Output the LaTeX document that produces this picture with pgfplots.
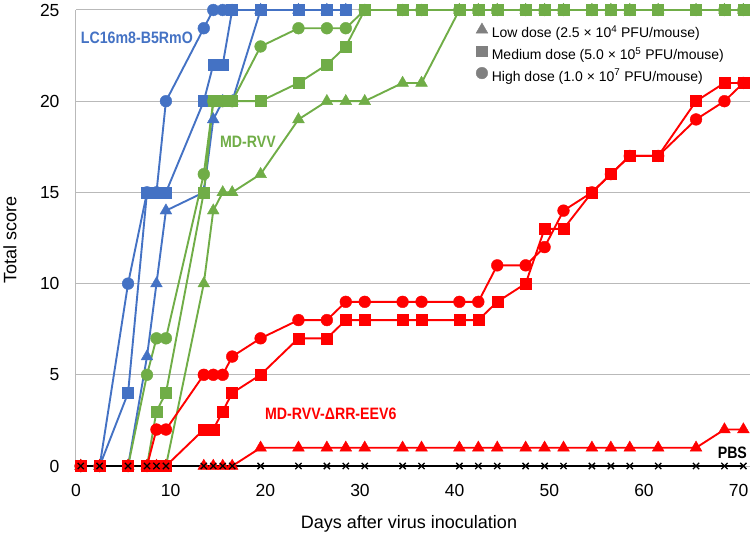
\documentclass[border=0pt]{standalone}
\usepackage{fontspec}
\setmainfont{Liberation Sans}
\newfontfamily\narrowfont[FakeStretch=0.86]{Liberation Sans}
\usepackage{pgfplots}
\usepackage{pgfplotstable}
\pgfplotsset{compat=1.18}

\definecolor{cblue}{HTML}{4472C4}
\definecolor{cgreen}{HTML}{70AD47}
\definecolor{cred}{HTML}{FF0000}
\definecolor{gridgray}{HTML}{B9B9B9}
\definecolor{leggray}{HTML}{808080}

% LC16m8-B5RmO
\pgfplotstableread{
day score
0.5 0
2.5 0
5.5 0
7.5 6
8.5 10
9.5 14
13.5 15
14.5 19
15.5 20
16.5 20
19.5 25
23.5 25
26.5 25
28.5 25
}\bluelow
\pgfplotstableread{
day score
0.5 0
2.5 0
5.5 4
7.5 15
8.5 15
9.5 15
13.5 20
14.5 22
15.5 22
16.5 25
19.5 25
23.5 25
26.5 25
28.5 25
}\bluemed
\pgfplotstableread{
day score
0.5 0
2.5 0
5.5 10
7.5 15
8.5 15
9.5 20
13.5 24
14.5 25
15.5 25
16.5 25
}\bluehigh

% MD-RVV
\pgfplotstableread{
day score
0.5 0
2.5 0
5.5 0
7.5 0
8.5 0
9.5 0
13.5 10
14.5 14
15.5 15
16.5 15
19.5 16
23.5 19
26.5 20
28.5 20
30.5 20
34.5 21
36.5 21
40.5 25
42.5 25
44.5 25
47.5 25
49.5 25
51.5 25
54.5 25
56.5 25
58.5 25
61.5 25
65.5 25
68.5 25
70.5 25
}\greenlow
\pgfplotstableread{
day score
0.5 0
2.5 0
5.5 0
7.5 0
8.5 3
9.5 4
13.5 15
14.5 20
15.5 20
16.5 20
19.5 20
23.5 21
26.5 22
28.5 23
30.5 25
34.5 25
36.5 25
40.5 25
42.5 25
44.5 25
47.5 25
49.5 25
51.5 25
54.5 25
56.5 25
58.5 25
61.5 25
65.5 25
68.5 25
70.5 25
}\greenmed
\pgfplotstableread{
day score
0.5 0
2.5 0
5.5 0
7.5 5
8.5 7
9.5 7
13.5 16
14.5 20
15.5 20
16.5 20
19.5 23
23.5 24
26.5 24
28.5 24
30.5 25
34.5 25
36.5 25
40.5 25
42.5 25
44.5 25
47.5 25
49.5 25
51.5 25
54.5 25
56.5 25
58.5 25
61.5 25
65.5 25
68.5 25
70.5 25
}\greenhigh

% MD-RVV-dRR-EEV6
\pgfplotstableread{
day score
0.5 0
2.5 0
5.5 0
7.5 0
8.5 0
9.5 0
13.5 0
14.5 0
15.5 0
16.5 0
19.5 1
23.5 1
26.5 1
28.5 1
30.5 1
34.5 1
36.5 1
40.5 1
42.5 1
44.5 1
47.5 1
49.5 1
51.5 1
54.5 1
56.5 1
58.5 1
61.5 1
65.5 1
68.5 2
70.5 2
}\redlow
\pgfplotstableread{
day score
0.5 0
2.5 0
5.5 0
7.5 0
8.5 0
9.5 0
13.5 2
14.5 2
15.5 3
16.5 4
19.5 5
23.5 7
26.5 7
28.5 8
30.5 8
34.5 8
36.5 8
40.5 8
42.5 8
44.5 9
47.5 10
49.5 13
51.5 13
54.5 15
56.5 16
58.5 17
61.5 17
65.5 20
68.5 21
70.5 21
}\redmed
\pgfplotstableread{
day score
0.5 0
2.5 0
5.5 0
7.5 0
8.5 2
9.5 2
13.5 5
14.5 5
15.5 5
16.5 6
19.5 7
23.5 8
26.5 8
28.5 9
30.5 9
34.5 9
36.5 9
40.5 9
42.5 9
44.5 11
47.5 11
49.5 12
51.5 14
54.5 15
56.5 16
58.5 17
61.5 17
65.5 19
68.5 20
70.5 21
}\redhigh

% PBS
\pgfplotstableread{
day score
0.5 0
2.5 0
5.5 0
7.5 0
8.5 0
9.5 0
13.5 0
14.5 0
15.5 0
16.5 0
19.5 0
23.5 0
26.5 0
28.5 0
30.5 0
34.5 0
36.5 0
40.5 0
42.5 0
44.5 0
47.5 0
49.5 0
51.5 0
54.5 0
56.5 0
58.5 0
61.5 0
65.5 0
68.5 0
70.5 0
}\pbs

\pgfplotsset{
  grp/.style={color=#1, line width=1.9pt, forget plot,
    mark options={solid, fill=#1, draw=#1, line width=0.4pt}},
  low/.style={mark=triangle*, mark size=6.8pt},
  med/.style={mark=square*, mark size=5.5pt},
  high/.style={mark=*, mark size=5.9pt},
}

\begin{document}
\begin{tikzpicture}
\useasboundingbox (0,0) rectangle (752pt,538pt);
\begin{axis}[
  at={(76pt,72pt)}, anchor=south west,
  scale only axis, width=674pt, height=456pt,
  xmin=0, xmax=71.2, ymin=0, ymax=25,
  clip=false,
  axis line style={draw=none},
  tick style={draw=none},
  major tick length=0pt,
  xtick={0,10,...,70},
  ytick={0,5,...,25},
  ymajorgrids,
  grid style={gridgray, line width=1pt},
  extra x ticks={0},
  extra x tick labels={},
  extra x tick style={grid=major, grid style={gridgray, line width=1pt}},
  /pgf/number format/assume math mode=true,
  xticklabel style={font=\fontsize{17.5}{20}\selectfont, yshift=-15pt},
  yticklabel style={font=\fontsize{17.5}{20}\selectfont, xshift=-13pt},
  legend image code/.code={\draw[#1] plot coordinates {(5pt,4.6pt)};},
  legend style={at={(axis cs:42.24,24.3)}, anchor=north west,
    draw=none, fill=none, inner sep=0pt,
    font=\fontsize{14}{16}\selectfont,
    row sep=5pt, column sep=4pt,
    nodes={inner sep=0pt, text height=10pt, text depth=3pt}},
  legend cell align=left,
]
\addlegendimage{only marks, mark=triangle*, mark size=6.8pt, leggray, fill=leggray}
\addlegendentry{Low dose (2.5 × 10\textsuperscript{4} PFU/mouse)}
\addlegendimage{only marks, mark=square*, mark size=5.3pt, leggray, fill=leggray}
\addlegendentry{Medium dose (5.0 × 10\textsuperscript{5} PFU/mouse)}
\addlegendimage{only marks, mark=*, mark size=5.8pt, leggray, fill=leggray}
\addlegendentry{High dose (1.0 × 10\textsuperscript{7} PFU/mouse)}

\addplot[grp=cblue, low] table[x=day, y=score] {\bluelow};
\addplot[grp=cblue, med] table[x=day, y=score] {\bluemed};
\addplot[grp=cblue, high] table[x=day, y=score] {\bluehigh};

\addplot[grp=cgreen, low] table[x=day, y=score] {\greenlow};
\addplot[grp=cgreen, med] table[x=day, y=score] {\greenmed};
\addplot[grp=cgreen, high] table[x=day, y=score] {\greenhigh};

\addplot[grp=cred, low] table[x=day, y=score] {\redlow};
\addplot[grp=cred, high] table[x=day, y=score] {\redhigh};
\addplot[grp=cred, med] table[x=day, y=score] {\redmed};

\addplot[black, line width=2pt, forget plot, mark=x, mark size=4.4pt,
  mark options={line width=1.3pt}] table[x=day, y=score] {\pbs};

\node[anchor=west, inner sep=0pt, text=cblue, font=\narrowfont\bfseries\fontsize{16.5}{18}\selectfont]
  at (axis cs:0.5,23.5) {LC16m8-B5RmO};
\node[anchor=west, inner sep=0pt, text=cgreen, font=\narrowfont\bfseries\fontsize{16.5}{18}\selectfont]
  at (axis cs:15.2,17.75) {MD-RVV};
\node[anchor=west, inner sep=0pt, text=cred, font=\narrowfont\bfseries\fontsize{16.5}{18}\selectfont]
  at (axis cs:19.96,2.85) {MD-RVV-ΔRR-EEV6};
\node[anchor=east, inner sep=0pt, text=black, font=\narrowfont\bfseries\fontsize{16.5}{18}\selectfont]
  at (axis cs:70.9,0.75) {PBS};
\end{axis}
\node[font=\fontsize{18}{21}\selectfont] at (409pt,14pt) {Days after virus inoculation};
\node[rotate=90, font=\fontsize{18}{21}\selectfont] at (10pt,298pt) {Total score};
\end{tikzpicture}
\end{document}
